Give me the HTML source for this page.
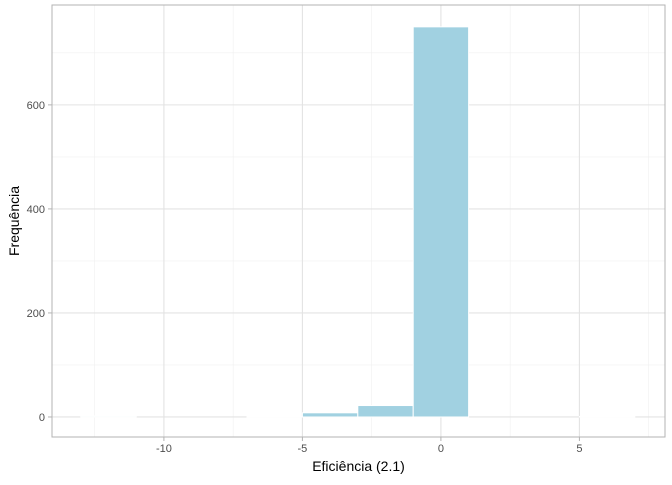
<!DOCTYPE html>
<html><head><meta charset="utf-8"><style>
body{margin:0;background:#fff;font-family:"Liberation Sans",sans-serif;}
</style></head><body>
<svg width="672" height="480" xmlns="http://www.w3.org/2000/svg">
<g id="g"></g>
</svg>
<script>
const binCenters=[-12,-10,-8,-6,-4,-2,0,2,4,6];
const counts=[2,0,0,1,8,22,750,0,0,1];
const xTicks=[-10,-5,0,5];
const yTicks=[0,200,400,600];
const binWidth=2;
const L=52,R=665,T=5,B=437;
const xmin=-14.04,xmax=8.09,ymin=-38.5,ymax=792;
const X=v=>L+(v-xmin)/(xmax-xmin)*(R-L);
const Y=v=>B-(v-ymin)/(ymax-ymin)*(B-T);
const g=document.getElementById('g');
const NS='http://www.w3.org/2000/svg';
function mk(t,a){const e=document.createElementNS(NS,t);for(const k in a)e.setAttribute(k,a[k]);g.appendChild(e);return e;}
// minor grid
for(let v=-12.5;v<=8;v+=5){const e=mk('line',{x1:X(v),x2:X(v),y1:T,y2:B,stroke:'#f0f0f0','stroke-width':0.6});

}
for(let v=100;v<=790;v+=200){const e=mk('line',{x1:L,x2:R,y1:Y(v),y2:Y(v),stroke:'#f0f0f0','stroke-width':0.6});

}
xTicks.forEach(v=>{const e=mk('line',{x1:X(v),x2:X(v),y1:T,y2:B,stroke:'#e3e3e3','stroke-width':1.1});


const t=mk('line',{x1:X(v),x2:X(v),y1:B,y2:B+4,stroke:'#b3b3b3','stroke-width':1});


const l=mk('text',{x:X(v),y:B+15,'text-anchor':'middle','font-size':11,fill:'#4d4d4d'});l.textContent=v;

});
yTicks.forEach(v=>{const e=mk('line',{x1:L,x2:R,y1:Y(v),y2:Y(v),stroke:'#e3e3e3','stroke-width':1.1});


const t=mk('line',{x1:L-4,x2:L,y1:Y(v),y2:Y(v),stroke:'#b3b3b3','stroke-width':1});


const l=mk('text',{x:L-7,y:Y(v)+4,'text-anchor':'end','font-size':11,fill:'#4d4d4d'});l.textContent=v;

});
binCenters.forEach((c,i)=>{const x0=X(c-binWidth/2),x1=X(c+binWidth/2);
const r=mk('rect',{x:x0,y:Y(counts[i]),width:x1-x0,height:Y(0)-Y(counts[i]),fill:'#a1d1e1',stroke:'#ffffff','stroke-width':1});

});
const f=mk('rect',{x:L,y:T,width:R-L,height:B-T,fill:'none',stroke:'#b3b3b3','stroke-width':1});


const xt=mk('text',{x:(L+R)/2,y:471,'text-anchor':'middle','font-size':14,fill:'#000'});xt.textContent='Eficiência (2.1)';


const yt=mk('text',{x:0,y:0,'text-anchor':'middle','font-size':14,fill:'#000',transform:`translate(19,${(T+B)/2}) rotate(-90)`});yt.textContent='Frequência';


</script>
</body></html>
